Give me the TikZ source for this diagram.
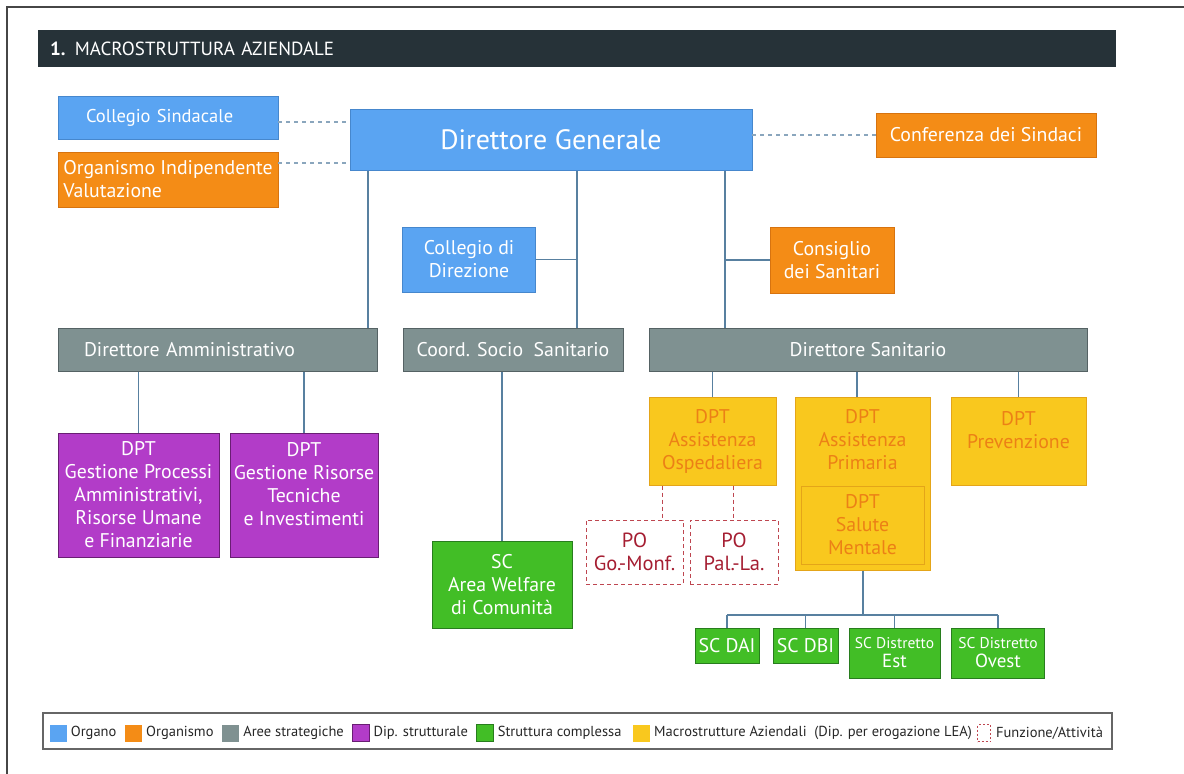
\documentclass[tikz,border=0pt]{standalone}
\usepackage{fontspec}
\setmainfont{PT Sans}
\usetikzlibrary{positioning}
\definecolor{bluOrg}{RGB}{90,164,242}
\definecolor{bluOrgD}{RGB}{70,135,205}
\definecolor{arancio}{RGB}{244,140,22}
\definecolor{arancioD}{RGB}{215,115,15}
\definecolor{grigio}{RGB}{127,145,145}
\definecolor{grigioD}{RGB}{85,98,100}
\definecolor{viola}{RGB}{178,60,200}
\definecolor{violaD}{RGB}{105,30,115}
\definecolor{verde}{RGB}{66,190,38}
\definecolor{verdeD}{RGB}{40,125,30}
\definecolor{giallo}{RGB}{249,200,30}
\definecolor{gialloD}{RGB}{228,165,25}
\definecolor{testoG}{RGB}{236,128,22}
\definecolor{rosso}{RGB}{165,30,50}
\definecolor{rossoD}{RGB}{190,70,80}
\definecolor{linea}{RGB}{88,128,160}
\definecolor{titolo}{RGB}{38,50,56}
\definecolor{cornice}{RGB}{70,70,70}
\tikzset{
	box/.style 2 args={rectangle,minimum width=#1pt,minimum height=#2pt,inner sep=2pt,align=center,font=\fontsize{19.8}{23}\selectfont},
	organo/.style 2 args={box={#1}{#2},fill=bluOrg,draw=bluOrgD,text=white},
	organismo/.style 2 args={box={#1}{#2},fill=arancio,draw=arancioD,text=white},
	area/.style 2 args={box={#1}{#2},fill=grigio,draw=grigioD,line width=1pt,text=white},
	dip/.style 2 args={box={#1}{#2},fill=viola,draw=violaD,line width=1pt,text=white},
	sc/.style 2 args={box={#1}{#2},fill=verde,draw=verdeD,line width=1pt,text=white},
	macro/.style 2 args={box={#1}{#2},fill=giallo,draw=gialloD,line width=1pt,text=testoG},
	funz/.style 2 args={box={#1}{#2},draw=rossoD,dash pattern=on 4pt off 3pt,line width=1pt,text=rosso,font=\fontsize{20.5}{23}\selectfont},
	conn/.style={draw=linea,line width=1.4pt},
	tratt/.style={draw=linea!70,dash pattern=on 4pt off 4pt,line width=1.2pt},
	trattR/.style={draw=rossoD,dash pattern=on 4pt off 3pt,line width=1pt},
	swatch/.style={rectangle,minimum width=17pt,minimum height=17pt,inner sep=0pt},
	legtxt/.style={inner sep=1pt,font=\fontsize{14.5}{16}\selectfont,text=black!85}
}

\begin{document}
\begin{tikzpicture}[x=1pt,y=-1pt]
	\useasboundingbox (0,0) rectangle (1184,774);
	\draw[cornice,line width=1.5pt] (7,774) -- (7,7) -- (1184,7);

	\node (titolo) [fill=titolo,text=white,minimum width=1078pt,minimum height=37pt,inner xsep=12pt,text width=1054pt,align=left,font=\fontsize{19}{22}\selectfont] at (577,48.5) {\textbf{1.} MACROSTRUTTURA AZIENDALE};

	% vertice
	\node (dg) [organo={402}{61},font=\fontsize{28}{32}\selectfont] at (551,140) {Direttore Generale};
	\node (colsind) [organo={220}{43},align=left,text width=164pt,font=\fontsize{18.5}{23}\selectfont] at (168,118) {Collegio Sindacale};
	\node (oiv) [organismo={220}{55},align=left] at (168,179.5) {Organismo Indipendente\\Valutazione};
	\node (conf) [organismo={220}{44}] at (986,135) {Conferenza dei Sindaci};
	\node (coldir) [organo={133}{65}] at (469,259.5) {Collegio di\\Direzione};
	\node (consan) [organismo={124}{66}] at (832,260) {Consiglio\\dei Sanitari};

	% aree strategiche
	\node (damm) [area={319}{43},align=left,text width=267pt] at (217.5,349.5) {Direttore Amministrativo};
	\node (coord) [area={220}{43}] at (513,349.5) {Coord. Socio\ \ Sanitario};
	\node (dsan) [area={438}{43}] at (868,349.5) {Direttore Sanitario};

	\node (dgp) [dip={161}{124}] at (138.5,495) {DPT\\Gestione Processi\\Amministrativi,\\Risorse Umane\\e Finanziarie};
	\node (dgr) [dip={148}{124}] at (304,495) {DPT\\Gestione Risorse\\Tecniche\\e Investimenti\\\mbox{}};
	\node (welfare) [sc={140}{87}] at (502,584.5) {SC\\Area Welfare\\di Comunità};

	\node (osp) [macro={127}{88}] at (712.5,441) {DPT\\Assistenza\\Ospedaliera};
	\node (prim) [macro={135}{173}] at (862.5,483.5) {};
	\node (primtxt) [font=\fontsize{19.8}{23}\selectfont,text=testoG,align=center,anchor=north,inner sep=0pt] at ([yshift=-13pt]prim.north) {DPT\\Assistenza\\Primaria};
	\node (smental) [macro={123}{78}] at (862.5,525) {DPT\\Salute\\Mentale};
	\node (prev) [macro={135}{88}] at (1018.5,441) {DPT\\Prevenzione\\\mbox{}};

	\node (pogo) [funz={97}{64}] at (634.5,552) {PO\\Go.-Monf.};
	\node (popal) [funz={88}{64}] at (734,552) {PO\\Pal.-La.};

	\node (dai) [sc={64}{35}] at (727,646) {SC DAI};
	\node (dbi) [sc={65}{35}] at (805.5,646) {SC DBI};
	\node (est) [sc={91}{50},font=\fontsize{19}{19}\selectfont] at (894.5,653) {{\fontsize{15.5}{16}\selectfont SC Distretto}\\Est};
	\node (ovest) [sc={93}{50},font=\fontsize{19}{19}\selectfont] at (998,653) {{\fontsize{15.5}{16}\selectfont SC Distretto}\\Ovest};

	% collegamenti
	\coordinate (vamm) at (368,0);
	\coordinate (vcoord) at (577,0);
	\coordinate (vsan) at (725,0);
	\coordinate (bus) at (863,615);

	\draw[tratt] ([yshift=-4pt]colsind.east) -- ([yshift=-4pt]colsind.east -| dg.west);
	\draw[tratt] ([yshift=16.5pt]oiv.east) -- ([yshift=16.5pt]oiv.east -| dg.west);
	\draw[tratt] (dg.east |- conf.west) -- (conf.west);

	\draw[conn] (dg.south -| vamm) -- (damm.north -| vamm);
	\draw[conn] (dg.south -| vcoord) -- (coord.north -| vcoord);
	\draw[conn] (dg.south -| vsan) -- (dsan.north -| vsan);
	\draw[conn] (coldir.east) -- (coldir.east -| vcoord);
	\draw[conn] (consan.west) -- (consan.west -| vsan);

	\draw[conn] (damm.south -| dgp.north) -- (dgp.north);
	\draw[conn] (damm.south -| dgr.north) -- (dgr.north);
	\draw[conn] (coord.south -| welfare.north) -- (welfare.north);
	\draw[conn] (dsan.south -| osp.north) -- (osp.north);
	\draw[conn] (dsan.south -| 857,0) -- (prim.north -| 857,0);
	\draw[conn] (dsan.south -| prev.north) -- (prev.north);

	\draw[trattR] ([xshift=-50pt]osp.south) -- ([xshift=-50pt]osp.south |- pogo.north);
	\draw[trattR] ([xshift=21pt]osp.south) -- ([xshift=21pt]osp.south |- popal.north);

	\draw[conn] (prim.south -| bus) -- (bus);
	\draw[conn] (dai.north |- bus) -- (ovest.north |- bus);
	\foreach \sc in {dai,dbi,est,ovest}
		\draw[conn] (\sc.north |- bus) -- (\sc.north);

	% legenda
	\node (legenda) [draw=black!60,line width=1.2pt,minimum width=1069pt,minimum height=36pt] at (577.5,731) {};
	\node (l1) [swatch,fill=bluOrg] at (58,733) {};
	\node (t1) [legtxt,right=3pt of l1] {Organo};
	\node (l2) [swatch,fill=arancio,right=7pt of t1] {};
	\node (t2) [legtxt,right=3pt of l2] {Organismo};
	\node (l3) [swatch,fill=grigio,right=7pt of t2] {};
	\node (t3) [legtxt,right=3pt of l3] {Aree strategiche};
	\node (l4) [swatch,fill=viola,draw=violaD,right=7pt of t3] {};
	\node (t4) [legtxt,right=3pt of l4] {Dip. strutturale};
	\node (l5) [swatch,fill=verde,draw=verdeD,right=7pt of t4] {};
	\node (t5) [legtxt,right=3pt of l5] {Struttura complessa};
	\node (l6) [swatch,fill=giallo,right=10pt of t5] {};
	\node (t6) [legtxt,right=3pt of l6] {Macrostrutture Aziendali\ \ (Dip. per erogazione LEA)};
	\node (l7) [swatch,minimum width=13pt,draw=rossoD,dash pattern=on 2pt off 2pt,line width=0.8pt,right=4pt of t6] {};
	\node (t7) [legtxt,right=4pt of l7] {Funzione/Attività};
\end{tikzpicture}
\end{document}
